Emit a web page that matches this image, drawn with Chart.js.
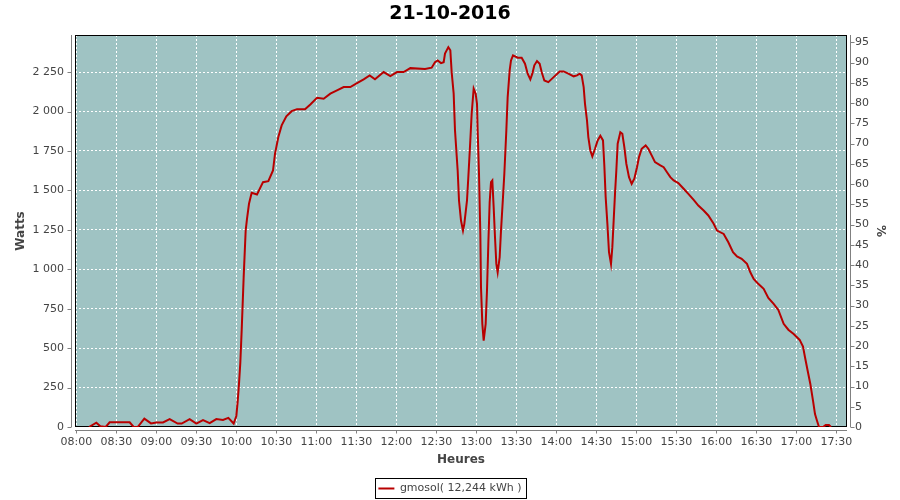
<!DOCTYPE html>
<html>
<head>
<meta charset="utf-8">
<script src="https://cdn.jsdelivr.net/npm/chart.js@4.4.0/dist/chart.umd.min.js"></script>
<style>
  html, body { margin: 0; padding: 0; background: #fff; }
</style>
</head>
<body>
<canvas id="powerChart" width="900" height="500"></canvas>
<script>
// --- data ---
const TITLE = '21-10-2016';
const SERIES_LABEL = 'gmosol( 12,244 kWh )';

// minutes since midnight
const times = [
  489.5, 495, 498, 502, 505, 520, 523, 526, 531, 536, 540, 545, 550, 556, 559, 565, 570, 575, 580, 585,
  590, 594, 598, 600, 601, 602, 603, 604, 605.5, 607, 608, 609.5, 611.5, 615.5, 620, 624, 627.5, 629, 631.5, 634,
  637.5, 641.5, 645.5, 651.5, 655.5, 660.5, 665.5, 670.5, 675.5, 680.5, 685.5, 690.5, 695.5, 700, 704, 710.5, 715.5, 720.5, 725.5, 730.5,
  741.5, 746.5, 749, 751, 753.5, 755.5, 756.5, 759, 760.5, 761.5, 763, 764, 766, 767, 768.5, 770, 771, 773, 774, 775.5,
  776.5, 778, 779.5, 780.5, 781, 782, 783, 783.5, 784.5, 785.5, 787, 788, 789, 790, 791, 792, 793, 794, 795, 796,
  797.5, 798.5, 800, 801, 802.5, 803.5, 805, 806, 807.5, 811, 814, 816.5, 818.5, 820.5, 822, 823.5, 825.5, 827.5, 829, 831,
  834, 838, 842.5, 845.5, 849, 853, 855.5, 857.5, 859, 860.5, 861.5, 863, 864, 865.5, 867, 869, 871, 873, 875, 876,
  877, 878.3, 879.5, 881, 882, 883, 884, 885, 886, 888, 889.5, 891, 892.5, 894.5, 896.5, 898.5, 900.5, 902, 904, 907,
  909, 911.5, 914, 918, 920.5, 923, 925.5, 928, 931.5, 935.5, 939, 943, 946.5, 950.5, 954, 958, 960.5, 965.5, 969, 972.5,
  975.5, 979, 983, 985.5, 988, 991, 995.5, 999, 1003, 1006.5, 1010.5, 1014, 1018, 1022.5, 1025, 1026.5, 1028.5, 1030.5, 1032.5, 1034,
  1035.5, 1037, 1040, 1042, 1044.5, 1046
];

const watts = [
  0, 27, 5, 0, 30, 30, 0, 0, 53, 23, 29, 29, 50, 22, 22, 50, 22, 44, 25, 50,
  45, 58, 22, 70, 160, 273, 410, 611, 950, 1245, 1320, 1415, 1485, 1474, 1552, 1558, 1626, 1732, 1838, 1912,
  1969, 2002, 2015, 2015, 2045, 2087, 2081, 2113, 2134, 2155, 2155, 2180, 2204, 2229, 2204, 2250, 2225, 2250, 2250, 2275,
  2270, 2278, 2313, 2324, 2307, 2313, 2367, 2408, 2388, 2250, 2113, 1880, 1626, 1436, 1309, 1245, 1288, 1436, 1584, 1817,
  1986, 2145, 2113, 2049, 1880, 1605, 1225, 886, 654, 548, 654, 865, 1161, 1425, 1552, 1563, 1393, 1203, 1034, 981,
  1076, 1245, 1457, 1605, 1880, 2091, 2261, 2324, 2356, 2341, 2341, 2303, 2240, 2204, 2240, 2293, 2320, 2303, 2250, 2197,
  2186, 2218, 2254, 2254, 2240, 2223, 2229, 2240, 2229, 2155, 2049, 1943, 1838, 1753, 1715, 1764, 1817, 1846, 1817, 1658,
  1457, 1288, 1108, 1034, 1140, 1309, 1478, 1626, 1796, 1869, 1859, 1774, 1669, 1584, 1542, 1574, 1647, 1711, 1764, 1785,
  1764, 1722, 1679, 1658, 1647, 1615, 1584, 1563, 1546, 1510, 1478, 1440, 1404, 1372, 1341, 1288, 1245, 1224, 1171, 1108,
  1081, 1066, 1034, 981, 939, 911, 876, 818, 780, 742, 654, 617, 590, 552, 510, 442, 357, 273, 167, 82,
  40, 0, 0, 12, 12, 0
];

// tick values
const wattTicks = [0, 250, 500, 750, 1000, 1250, 1500, 1750, 2000, 2250];
const pctTicks = [0, 5, 10, 15, 20, 25, 30, 35, 40, 45, 50, 55, 60, 65, 70, 75, 80, 85, 90, 95];

// axis ranges (minutes / watts / percent)
const X_MIN = 479, X_MAX = 1058, X_STEP = 30;
const W_MAX = 2485;
const PCT_MAX = 96.8;

const LINE_COLOR = '#b80000';
const PLOT_BG = '#9fc3c3';
const AXIS_GRAY = '#808080';
const TEXT_GRAY = '#444444';

Chart.defaults.font.family = '"DejaVu Sans", sans-serif';

function toHHMM(min) {
  const h = Math.floor(min / 60), m = Math.round(min % 60);
  return String(h).padStart(2, '0') + ':' + String(m).padStart(2, '0');
}

function spaced(v) {
  return String(v).replace(/\B(?=(\d{3})+(?!\d))/g, ' ');
}

// plot background, black outline, and the offset gray axis lines (JFreeChart look)
const framePlugin = {
  id: 'frame',
  beforeDraw(chart) {
    const { ctx, chartArea: a } = chart;
    ctx.save();
    ctx.fillStyle = PLOT_BG;
    ctx.fillRect(a.left, a.top, a.right - a.left, a.bottom - a.top);
    ctx.restore();
  },
  beforeDatasetsDraw(chart) {
    const { ctx, chartArea: a, scales } = chart;
    ctx.save();
    ctx.lineWidth = 1;
    ctx.strokeStyle = '#000';
    ctx.strokeRect(a.left + 0.5, a.top + 0.5, a.right - a.left - 1, a.bottom - a.top - 1);

    ctx.strokeStyle = AXIS_GRAY;
    ctx.beginPath();
    // left axis
    const lx = a.left - 3.5;
    ctx.moveTo(lx, a.top); ctx.lineTo(lx, a.bottom);
    scales.y.ticks.forEach(t => {
      const py = Math.round(scales.y.getPixelForValue(t.value)) + 0.5;
      ctx.moveTo(lx - 4, py); ctx.lineTo(lx, py);
    });
    // bottom axis
    const by = a.bottom + 3.5;
    ctx.moveTo(a.left, by); ctx.lineTo(a.right, by);
    scales.x.ticks.forEach(t => {
      const px = Math.round(scales.x.getPixelForValue(t.value)) + 0.5;
      ctx.moveTo(px, by); ctx.lineTo(px, by + 3);
    });
    // right axis
    const rx = a.right + 3.5;
    ctx.moveTo(rx, a.top); ctx.lineTo(rx, a.bottom);
    scales.y2.ticks.forEach(t => {
      const py = Math.round(scales.y2.getPixelForValue(t.value)) + 0.5;
      ctx.moveTo(rx, py); ctx.lineTo(rx + 4, py);
    });
    ctx.stroke();
    ctx.restore();
  },
  afterDraw(chart) {
    // box around the legend item
    const hb = chart.legend && chart.legend.legendHitBoxes && chart.legend.legendHitBoxes[0];
    if (!hb) return;
    const ctx = chart.ctx;
    ctx.save();
    ctx.strokeStyle = '#000';
    ctx.lineWidth = 1;
    const l = Math.round(hb.left - 3) + 0.5;
    const r = Math.round(hb.left + hb.width + 4) + 0.5;
    const t = Math.round(hb.top - 5) + 0.5;
    const b = Math.round(hb.top + hb.height + 4) + 0.5;
    ctx.strokeRect(l, t, r - l, b - t);
    ctx.restore();
  }
};

const points = times.map((t, i) => ({ x: t, y: watts[i] }));

new Chart(document.getElementById('powerChart'), {
  type: 'line',
  data: {
    datasets: [{
      label: SERIES_LABEL,
      data: points,
      borderColor: LINE_COLOR,
      backgroundColor: LINE_COLOR,
      borderWidth: 2,
      pointRadius: 0,
      tension: 0,
      fill: false,
      yAxisID: 'y'
    }]
  },
  options: {
    responsive: false,
    animation: false,
    events: [],
    layout: { padding: { top: 0, left: 0, right: 0, bottom: -4 } },
    scales: {
      x: {
        type: 'linear',
        min: X_MIN,
        max: X_MAX,
        afterFit: s => { s.height = 46; },
        grid: { color: '#ffffff', lineWidth: 1, drawTicks: false },
        border: { display: false, dash: [2, 2] },
        ticks: {
          stepSize: X_STEP,
          includeBounds: false,
          autoSkip: false,
          maxRotation: 0,
          padding: 9,
          color: TEXT_GRAY,
          font: { size: 11 },
          callback: v => toHHMM(v)
        },
        title: { display: true, text: 'Heures', color: TEXT_GRAY, font: { size: 12, weight: 'bold' }, padding: { top: 0, bottom: 6 } }
      },
      y: {
        position: 'left',
        min: 0,
        max: W_MAX,
        afterFit: s => { s.width = 75; },
        afterBuildTicks: s => { s.ticks = wattTicks.map(v => ({ value: v })); },
        grid: { color: '#ffffff', lineWidth: 1, drawTicks: false },
        border: { display: false, dash: [2, 2] },
        ticks: {
          padding: 11,
          autoSkip: false,
          color: TEXT_GRAY,
          font: { size: 11 },
          callback: v => spaced(v)
        },
        title: { display: true, text: 'Watts', color: TEXT_GRAY, font: { size: 12, weight: 'bold' }, padding: { top: 14, bottom: 0 } }
      },
      y2: {
        position: 'right',
        min: 0,
        max: PCT_MAX,
        afterFit: s => { s.width = 53; },
        afterBuildTicks: s => { s.ticks = pctTicks.map(v => ({ value: v })); },
        grid: { display: false, drawOnChartArea: false, drawTicks: false },
        border: { display: false },
        ticks: {
          padding: 8,
          autoSkip: false,
          color: TEXT_GRAY,
          font: { size: 11 }
        },
        title: { display: true, text: '%', color: TEXT_GRAY, font: { size: 12, weight: 'bold' }, padding: { top: 13, bottom: 0 } }
      }
    },
    plugins: {
      title: {
        display: true,
        text: TITLE,
        color: '#000',
        font: { size: 19, weight: 'bold' },
        padding: { top: 3, bottom: 9.2 }
      },
      legend: {
        display: true,
        position: 'bottom',
        labels: {
          color: TEXT_GRAY,
          font: { size: 11 },
          boxWidth: 16,
          boxHeight: 2,
          padding: 10,
          generateLabels: chart => Chart.defaults.plugins.legend.labels.generateLabels(chart)
            .map(l => Object.assign(l, { lineWidth: 0, fillStyle: LINE_COLOR }))
        }
      },
      tooltip: { enabled: false }
    }
  },
  plugins: [framePlugin]
});
</script>
</body>
</html>
